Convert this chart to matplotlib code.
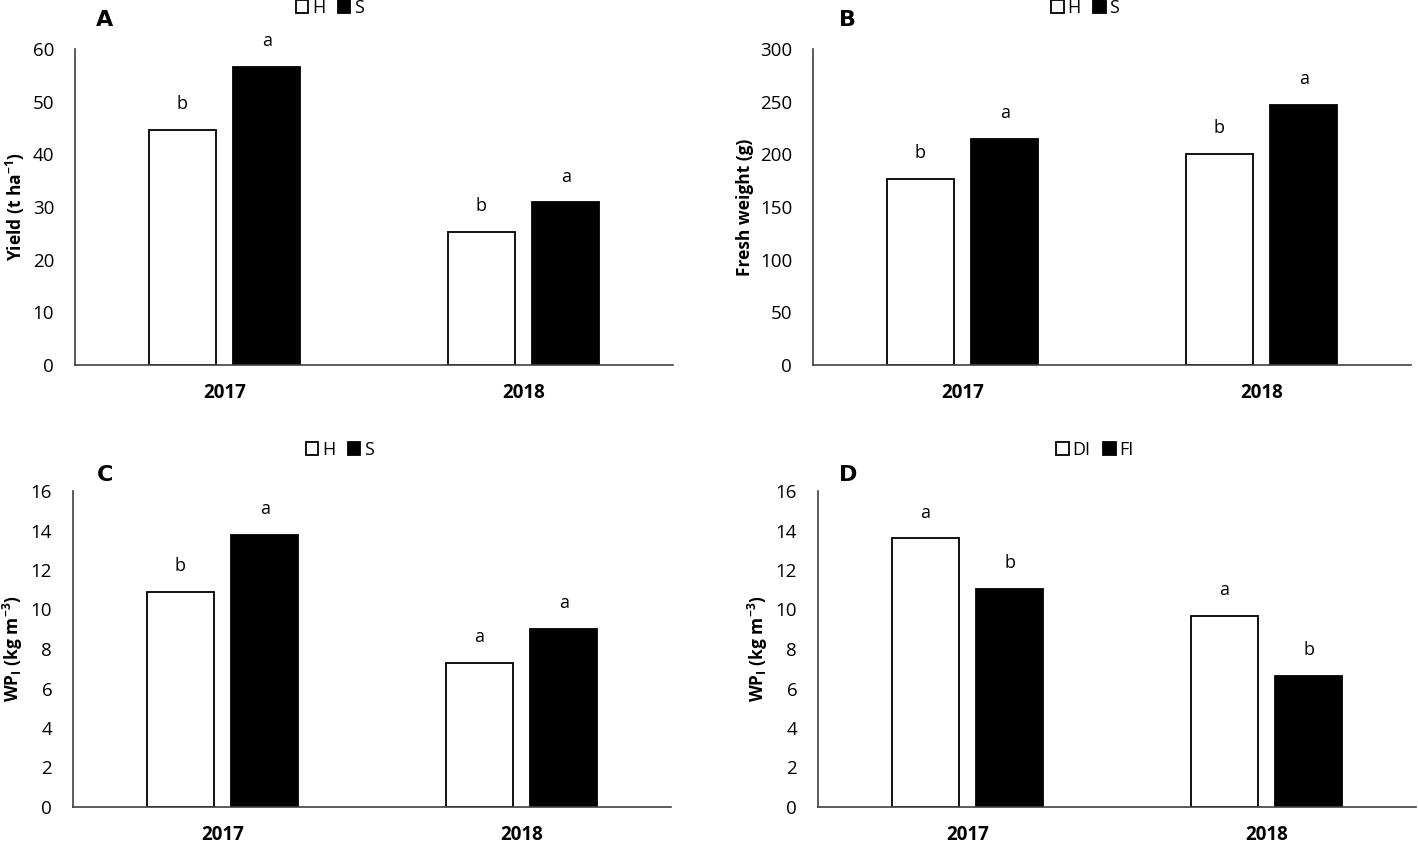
import matplotlib
matplotlib.use('Agg')
import matplotlib.pyplot as plt
import numpy as np

plt.rcParams['font.family'] = ['Open Sans', 'DejaVu Sans']
plt.rcParams['mathtext.fontset'] = 'custom'
plt.rcParams['mathtext.rm'] = 'Open Sans:bold'
plt.rcParams['mathtext.bf'] = 'Open Sans:bold'
plt.rcParams['mathtext.it'] = 'Open Sans:bold'

years = ['2017', '2018']

# panel A: yield
yield_h = [44.7, 25.3]
yield_s = [56.6, 30.9]
yield_let_h = ['b', 'b']
yield_let_s = ['a', 'a']

# panel B: fresh weight
fw_h = [176.6, 200.3]
fw_s = [214.6, 246.8]
fw_let_h = ['b', 'b']
fw_let_s = ['a', 'a']

# panel C: WPI by H / S
wp_h = [10.9, 7.29]
wp_s = [13.77, 9.01]
wp_let_h = ['b', 'a']
wp_let_s = ['a', 'a']

# panel D: WPI by DI / FI
wp_di = [13.6, 9.67]
wp_fi = [11.04, 6.63]
wp_let_di = ['a', 'a']
wp_let_fi = ['b', 'b']

W, H = 1418, 844
fig = plt.figure(figsize=(W / 100, H / 100), dpi=100)


def px_axes(left, top, right, bottom):
    return fig.add_axes([left / W, 1 - bottom / H, (right - left) / W, (bottom - top) / H])


def panel(ax, v1, v2, l1, l2, names, ymax, step, ylabel, leg_x):
    x = np.array([0.5, 1.5])
    off, bw = 0.142, 0.224
    b1 = ax.bar(x - off, v1, bw, color='white', edgecolor='black', linewidth=1.3, label=names[0])
    b2 = ax.bar(x + off, v2, bw, color='black', edgecolor='black', linewidth=1.3, label=names[1])
    for bars, labs in ((b1, l1), (b2, l2)):
        for b, t in zip(bars, labs):
            ax.annotate(t, (b.get_x() + b.get_width() / 2, b.get_height()),
                        xytext=(0, 12), textcoords='offset points',
                        ha='center', va='bottom', fontsize=13)
    ax.set_xlim(0, 2)
    ax.set_ylim(0, ymax)
    ax.set_yticks(np.arange(0, ymax + step / 2, step))
    ax.set_xticks(x)
    ax.set_xticklabels(years, fontweight='bold', fontsize=13.5)
    ax.tick_params(axis='both', length=0, labelsize=13.5)
    ax.tick_params(axis='y', pad=15)
    ax.tick_params(axis='x', pad=13)
    for s in ('top', 'right'):
        ax.spines[s].set_visible(False)
    for s in ('left', 'bottom'):
        ax.spines[s].set_color('#404040')
        ax.spines[s].set_linewidth(1.2)
    ax.set_ylabel(ylabel, fontweight='bold', fontsize=12.5, labelpad=4)
    ax.legend(loc='center', bbox_to_anchor=(leg_x, 1.13), ncol=2, frameon=False,
              fontsize=13, handlelength=0.7, handleheight=0.7, handletextpad=0.2,
              columnspacing=0.7, borderpad=0)


axA = px_axes(75, 49, 673, 365)
panel(axA, yield_h, yield_s, yield_let_h, yield_let_s, ['H', 'S'], 60, 10,
      'Yield (t ha$^{-1}$)', 0.426)
axB = px_axes(813, 49, 1411, 365)
panel(axB, fw_h, fw_s, fw_let_h, fw_let_s, ['H', 'S'], 300, 50,
      'Fresh weight (g)', 0.455)
axC = px_axes(73, 491, 671, 807)
panel(axC, wp_h, wp_s, wp_let_h, wp_let_s, ['H', 'S'], 16, 2,
      'WP$_{I}$ (kg m$^{-3}$)', 0.446)
axD = px_axes(818, 491, 1416, 807)
panel(axD, wp_di, wp_fi, wp_let_di, wp_let_fi, ['DI', 'FI'], 16, 2,
      'WP$_{I}$ (kg m$^{-3}$)', 0.463)

for lab, xp, yp in (('A', 105, 20), ('B', 848, 20), ('C', 105, 475), ('D', 848, 475)):
    fig.text(xp / W, 1 - yp / H, lab, fontsize=16, fontweight='bold',
             family='DejaVu Sans', ha='center', va='center')

fig.savefig('out.png', dpi=100)
